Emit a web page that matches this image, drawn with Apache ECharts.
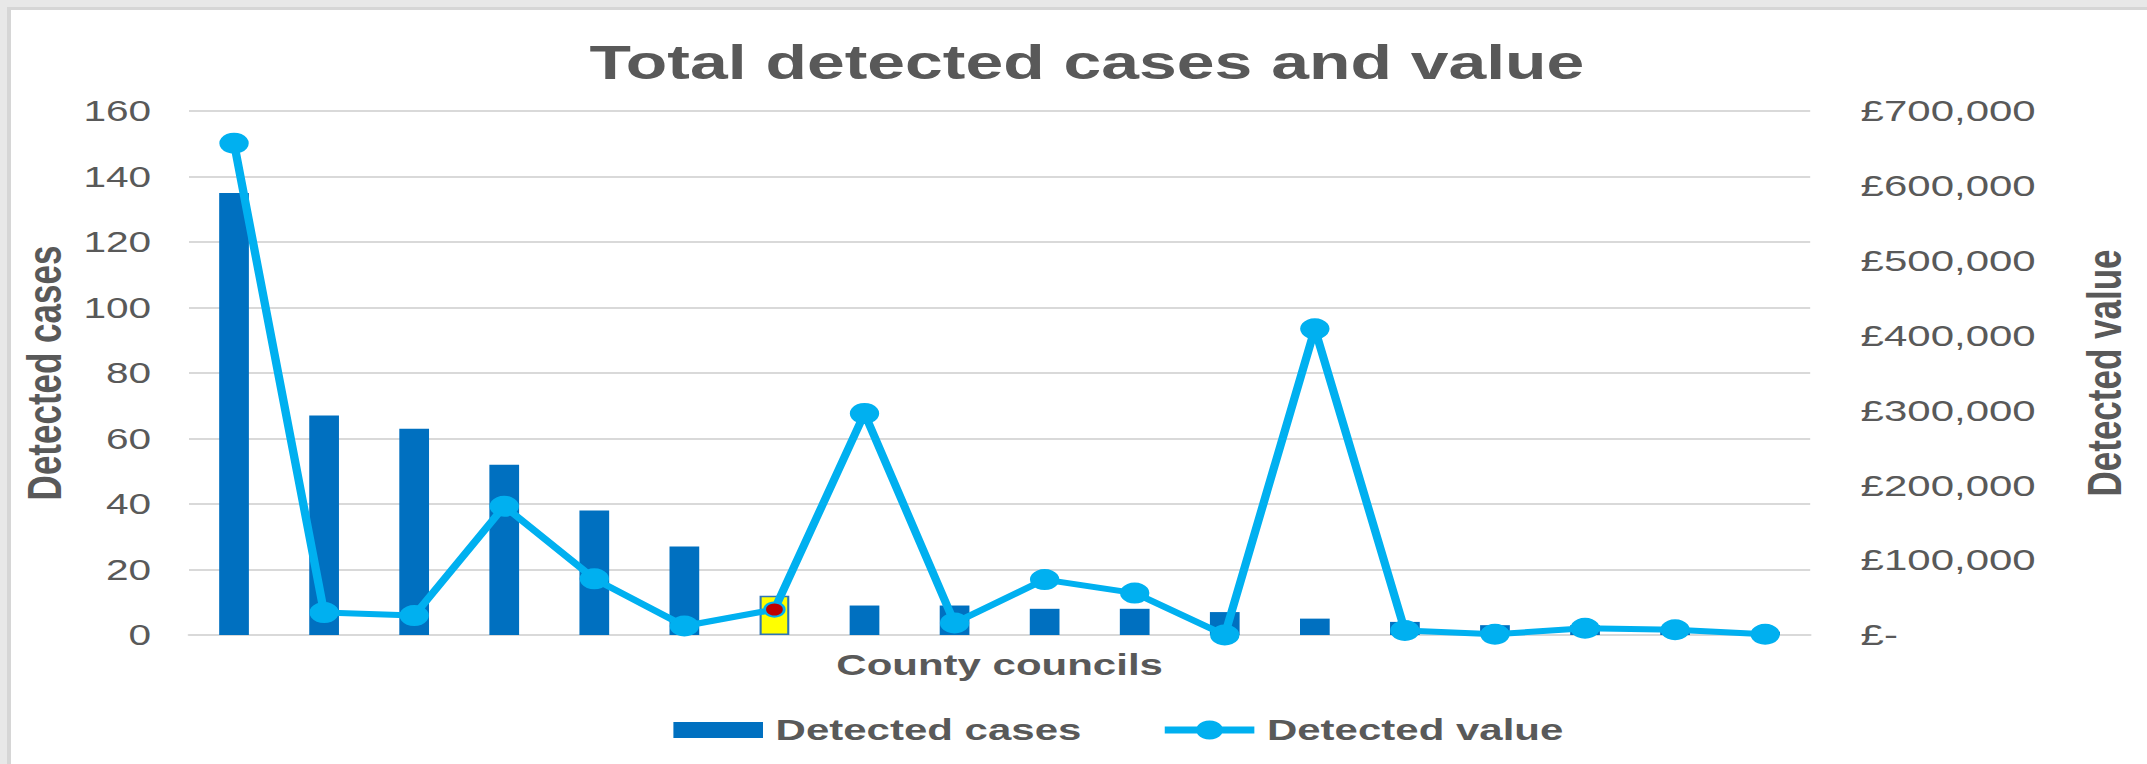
<!DOCTYPE html>
<html>
<head>
<meta charset="utf-8">
<script src="https://cdn.jsdelivr.net/npm/echarts@6/dist/echarts.min.js"></script>
<style>
  html, body { margin: 0; padding: 0; width: 2147px; height: 764px; overflow: hidden; background: #e8e8e8; }
  #frame { position: absolute; left: 7px; top: 7px; width: 2140px; height: 757px; background: #fff;
           border-left: 4px solid #d6d6d6; border-top: 3px solid #d6d6d6; box-sizing: border-box; }
  /* the reference picture is stretched sideways, so the chart is drawn narrow and widened */
  #main { position: absolute; left: 0; top: 0; width: 1534px; height: 764px;
          transform: scaleX(1.4); transform-origin: 0 0; }
</style>
</head>
<body>
<div id="frame"></div>
<div id="main"></div>
<script>
var councils = ['Council 1', 'Council 2', 'Council 3', 'Council 4', 'Council 5', 'Council 6',
    'Council 7', 'Council 8', 'Council 9', 'Council 10', 'Council 11', 'Council 12',
    'Council 13', 'Council 14', 'Council 15', 'Council 16', 'Council 17', 'Council 18'];
var detectedCases = [135, 67, 63, 52, 38, 27, 12, 9, 9, 8, 8, 7, 5, 4, 3, 3, 2, 1];
var detectedValue = [657000, 30000, 26000, 172000, 75000, 12000, 34000, 296000, 16000,
    74000, 56000, 0, 409000, 6000, 1000, 9000, 7000, 1000];
var highlightIndex = 6;

var font = '"Liberation Sans", Arial, sans-serif';
var grey = '#595959';

var barData = detectedCases.map(function (v, i) {
    if (i === highlightIndex) {
        return { value: v, itemStyle: { color: '#FFFF00', borderColor: '#2E75B6', borderWidth: 1.5 } };
    }
    return v;
});
var lineData = detectedValue.map(function (v, i) {
    if (i === highlightIndex) {
        return { value: v, symbolSize: 14, itemStyle: { color: '#C00000', borderColor: '#00B0F0', borderWidth: 2 } };
    }
    return v;
});

var myChart = echarts.init(document.getElementById('main'), null, { renderer: 'svg' });

var option = {
    animation: false,
    textStyle: { fontFamily: font },
    title: {
        text: 'Total detected cases and value',
        left: 421,
        top: 38,
        padding: 0,
        textStyle: { fontFamily: font, fontSize: 48.5, fontWeight: 'bold', color: grey }
    },
    legend: {
        data: [
            { name: 'Detected cases', icon: 'path://M0,0H64V16H0Z' },
            { name: 'Detected value' }
        ],
        left: 476,
        top: 710,
        itemWidth: 64,
        itemHeight: 24,
        itemGap: 56,
        lineStyle: { width: 7 },
        textStyle: { fontFamily: font, fontSize: 30, fontWeight: 'bold', color: grey, padding: [0, 0, 0, 4] }
    },
    grid: {
        left: 135,
        right: 241,
        top: 111,
        bottom: 129,
        outerBoundsMode: 'none'
    },
    xAxis: {
        type: 'category',
        data: councils,
        name: 'County councils',
        nameLocation: 'middle',
        nameGap: 15,
        nameTextStyle: { fontFamily: font, fontSize: 30, fontWeight: 'bold', color: grey },
        axisLine: { lineStyle: { color: '#d9d9d9', width: 2 } },
        axisTick: { show: false },
        axisLabel: { show: false }
    },
    yAxis: [{
        type: 'value',
        min: 0,
        max: 160,
        interval: 20,
        name: 'Detected cases',
        nameLocation: 'middle',
        nameRotate: 90,
        nameGap: 80,
        nameTextStyle: { fontFamily: font, fontSize: 35, fontWeight: 'bold', color: grey },
        axisLine: { show: false },
        axisTick: { show: false },
        axisLabel: { fontFamily: font, fontSize: 29, color: grey, margin: 27 },
        splitLine: { lineStyle: { color: '#d9d9d9', width: 2 } }
    }, {
        type: 'value',
        min: 0,
        max: 700000,
        interval: 100000,
        name: 'Detected value',
        nameLocation: 'middle',
        nameRotate: 90,
        nameGap: 192,
        nameTextStyle: { fontFamily: font, fontSize: 35, fontWeight: 'bold', color: grey },
        axisLine: { show: false },
        axisTick: { show: false },
        axisLabel: {
            fontFamily: font, fontSize: 30, color: grey, margin: 36,
            formatter: function (v) {
                return v === 0 ? '£-' : '£' + v.toLocaleString('en-GB');
            }
        },
        splitLine: { show: false }
    }],
    series: [{
        name: 'Detected cases',
        type: 'bar',
        barWidth: '33%',
        itemStyle: { color: '#0070C0' },
        data: barData
    }, {
        name: 'Detected value',
        type: 'line',
        yAxisIndex: 1,
        symbol: 'circle',
        symbolSize: 21,
        lineStyle: { color: '#00B0F0', width: 6 },
        itemStyle: { color: '#00B0F0' },
        data: lineData
    }]
};

myChart.setOption(option);
</script>
</body>
</html>
